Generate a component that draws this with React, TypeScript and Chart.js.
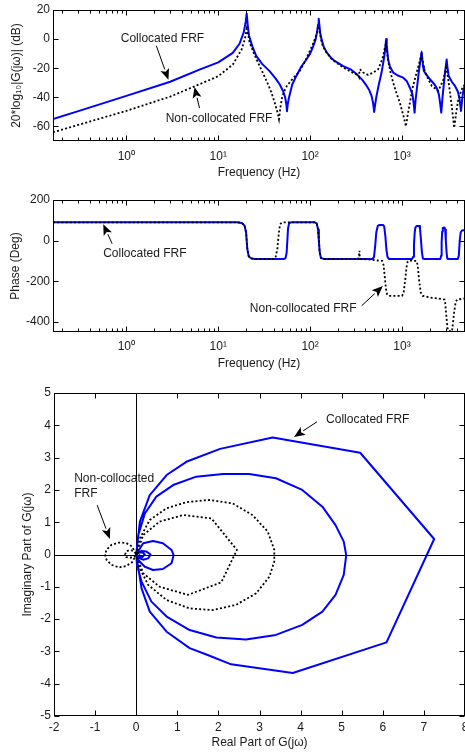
import React, { useEffect, useRef } from 'react';
import { Chart, registerables } from 'chart.js';
Chart.register(...registerables);

const FONT = "'Liberation Sans', Arial, Helvetica, sans-serif";
const BLUE = '#0000ff';
const INK = '#1a1a1a';

// ---------- Magnitude (dB) ----------
const magColFreq = [0.159, 0.3, 1, 3, 6.25, 10, 14.4, 17.1, 19.0, 19.9, 20.4, 20.9, 21.6, 23.5, 25.9, 30, 36.2, 42, 46.6, 51, 53.5, 55.2, 56, 57, 58.5, 60, 64, 70.8, 80, 91, 100, 108, 115, 119, 122, 124, 126, 129, 133, 140, 151, 170, 185, 229, 280, 320, 370, 411, 440, 466, 485, 498, 510, 528, 560, 599, 630, 651, 665, 673, 682, 693, 707, 740, 802, 900, 1031, 1130, 1219, 1300, 1340, 1371, 1405, 1465, 1520, 1567, 1610, 1634, 1660, 1700, 1732, 2015, 2250, 2383, 2520, 2600, 2675, 2760, 2884, 2980, 3064, 3120, 3222, 3500, 3776, 4050, 4210, 4390, 4540, 4650, 4853];
const magColDb = [-55, -49.5, -39, -29.3, -21, -16, -9.5, -3, 5, 12, 17.5, 10, 2.5, -5, -11.5, -17, -22, -27, -31, -36, -40, -45, -49.5, -45, -41, -38, -31, -25.3, -19, -14, -10, -5, 0, 5, 10, 14, 10, 4, 0, -5, -9, -13, -15, -18.5, -21, -24, -28, -32, -35, -39, -44, -50, -45, -39, -31, -23, -15, -9, -3, 0, -4, -9, -14, -19, -23, -25, -26.5, -29, -33.4, -38, -44, -50.5, -42, -32, -23, -17, -12, -9, -13, -19, -22, -27.6, -31, -33.5, -38, -44, -50.5, -40, -28, -20, -14, -19, -25.3, -29.5, -32.2, -36, -40.3, -49.4, -40, -35.6, -31];

const magNonFreq = [0.159, 1, 3, 6.25, 10, 14.4, 18, 19.5, 20.4, 21.2, 21.9, 24.5, 27.5, 31, 34.8, 38, 41.2, 44, 45.8, 47.5, 49.9, 53, 56, 65, 77, 87, 97, 108, 117, 122, 124, 126, 131, 137, 150, 172, 229, 300, 335, 341, 345, 352, 378, 428, 486, 550, 600, 624, 650, 667, 685, 707, 750, 802, 870, 948, 1030, 1104, 1160, 1219, 1300, 1380, 1530, 1634, 1700, 1780, 2110, 2490, 2830, 2950, 3040, 3140, 3222, 3480, 3700, 3900, 4100, 4500, 4850];
const magNonDb = [-64, -49.3, -39.5, -31, -25.5, -17.5, -7, 0, 7, 3, -2, -10, -17, -24, -31, -37, -43.7, -50, -55, -47, -39, -35, -32, -27, -22, -16, -9.5, -3, 3, 7, 9, 6, 0, -4.6, -9, -13.8, -19.6, -23.5, -25, -26, -21, -21, -23, -24.6, -23, -20.7, -15, -11.5, -6, -3.4, -8, -15, -23, -29.9, -37, -43.7, -52, -60, -51, -43.7, -34, -27.6, -17, -10.3, -17, -23, -32.2, -35.6, -27.6, -22, -19.6, -25, -29.9, -46, -61, -50, -41.4, -34, -31];

// ---------- Phase (deg) ----------
const phColFreq = [0.159, 16, 18, 19.3, 20.1, 20.7, 21.5, 23, 25, 52, 54, 55.5, 56.5, 57.5, 59, 62, 112, 118, 122, 124.5, 127, 131, 140, 475, 495, 510, 525, 545, 570, 620, 640, 660, 675, 695, 720, 1290, 1320, 1350, 1375, 1400, 1450, 1540, 1570, 1610, 1650, 1690, 1730, 2620, 2660, 2700, 2740, 2780, 2900, 2950, 3000, 3060, 3110, 3150, 4050, 4150, 4250, 4350, 4500, 4850];
const phColDeg = [90, 90, 87, 75, 40, -40, -78, -88, -90, -90, -86, -60, 0, 60, 85, 90, 90, 85, 55, 0, -55, -85, -90, -90, -82, -30, 40, 72, 77, 77, 70, 20, -40, -80, -90, -90, -80, -20, 40, 65, 72, 72, 60, 0, -60, -88, -90, -90, -75, -10, 45, 62, 65, 55, 0, -60, -88, -90, -90, -75, 0, 40, 50, 52];

const phNonFreq = [0.159, 16, 18, 19.3, 20.1, 20.7, 21.5, 23, 25, 40, 42, 44, 45.5, 47, 49, 52, 112, 118, 122, 124.5, 127, 131, 140, 335, 340, 344, 347, 355, 450, 550, 610, 630, 650, 670, 690, 720, 1000, 1040, 1080, 1120, 1150, 1200, 1440, 1480, 1540, 1600, 1680, 2000, 2500, 2900, 2960, 3050, 3130, 3200, 3500, 3560, 3700, 3850, 4000, 4850];
const phNonDeg = [90, 90, 87, 75, 40, -40, -78, -88, -90, -90, -85, -40, 30, 80, 88, 90, 90, 85, 55, 0, -55, -85, -90, -90, -75, -50, -85, -90, -93, -98, -100, -120, -180, -240, -265, -272, -272, -260, -200, -130, -105, -98, -100, -120, -200, -255, -272, -280, -285, -290, -310, -380, -430, -445, -447, -420, -350, -300, -290, -285];

// ---------- Nyquist ----------
const nyColRe = [0, 0.09, 0.33, 0.74, 1.22, 2.04, 3.32, 5.45, 7.25, 6.09, 3.81, 2.31, 1.74, 1.30, 0.74, 0.33, 0.13, 0,
  0.05, 0.21, 0.49, 0.9, 1.46, 2.11, 2.75, 3.4, 4.04, 4.53, 4.85, 5.05, 5.11, 5.05, 4.85, 4.53, 4.04, 3.4, 2.67, 1.95, 1.3, 0.74, 0.37, 0.13, 0.02, 0,
  0.17, 0.41, 0.65, 0.86, 0.91, 0.86, 0.65, 0.41, 0.21, 0.05, 0,
  0.13, 0.25, 0.35, 0.29, 0.17, 0.05, 0,
  0.05, 0.15, 0.21, 0.15, 0.05, 0];
const nyColIm = [0, 1.02, 1.84, 2.46, 2.87, 3.27, 3.62, 3.15, 0.48, -2.72, -3.67, -3.4, -3.11, -2.9, -2.39, -1.77, -1.05, 0,
  0.6, 1.27, 1.79, 2.15, 2.41, 2.49, 2.49, 2.36, 2.0, 1.48, 0.91, 0.4, -0.02, -0.63, -1.25, -1.77, -2.18, -2.49, -2.63, -2.57, -2.34, -1.92, -1.46, -0.84, -0.33, 0,
  0.35, 0.42, 0.35, 0.14, -0.02, -0.27, -0.45, -0.48, -0.38, -0.17, 0,
  0.11, 0.09, 0, -0.12, -0.16, -0.1, 0,
  0.06, 0.07, 0, -0.08, -0.07, 0];

const nyNonRe = [0, 0.17, 0.57, 1.14, 1.83, 2.45, 2.07, 1.26, 0.57, 0.17, 0,
  0.09, 0.33, 0.74, 1.22, 1.78, 2.35, 2.83, 3.2, 3.36, 3.36, 3.24, 2.92, 2.43, 1.86, 1.3, 0.74, 0.29, 0.05, 0,
  -0.1, -0.25, -0.42, -0.6, -0.72, -0.76, -0.72, -0.6, -0.42, -0.25, -0.1, 0,
  -0.05, -0.15, -0.24, -0.27, -0.24, -0.15, -0.05, 0,
  0.05, 0.1, 0.05, 0];
const nyNonIm = [0, 0.6, 1.02, 1.22, 1.12, 0.14, -0.86, -1.25, -1.0, -0.58, 0,
  0.5, 1.07, 1.43, 1.62, 1.69, 1.58, 1.22, 0.71, 0.14, -0.22, -0.69, -1.2, -1.56, -1.72, -1.67, -1.41, -0.94, -0.33, 0,
  -0.24, -0.36, -0.4, -0.32, -0.17, 0, 0.15, 0.3, 0.37, 0.36, 0.25, 0,
  -0.07, -0.1, -0.08, 0, 0.1, 0.14, 0.1, 0,
  0.05, 0, -0.05, 0];

// ---------- Ticks ----------
const freqTicks = [1, 10, 100, 1000];
const freqTickLabels = ['10\u2070', '10\u00b9', '10\u00b2', '10\u00b3'];
const magTicks = [-60, -40, -20, 0, 20];
const phaseTicks = [-400, -200, 0, 200];
const reTicks = [-2, -1, 0, 1, 2, 3, 4, 5, 6, 7, 8];
const imTicks = [-5, -4, -3, -2, -1, 0, 1, 2, 3, 4, 5];

const FREQ_MIN = 0.159;
const FREQ_MAX = 4850;

const logMinor: number[] = [];
for (let e = -1; e <= 3; e++) {
  for (let m = 2; m <= 9; m++) {
    const v = m * Math.pow(10, e);
    if (v > FREQ_MIN && v < FREQ_MAX) logMinor.push(v);
  }
}

const pts = (xs: number[], ys: number[]) => xs.map((x, i) => ({ x, y: ys[i] }));

type Note =
  | { kind: 'text'; x: number; y: number; text: string; align: CanvasTextAlign }
  | { kind: 'arrow'; x1: number; y1: number; x2: number; y2: number };

function decor(opts: {
  xMajor: number[]; xMinor: number[]; yMajor: number[]; zero?: boolean; notes: Note[];
}) {
  return {
    id: 'decor',
    beforeDatasetsDraw(chart: any) {
      if (!opts.zero) return;
      const { ctx, chartArea: a, scales } = chart;
      const x0 = Math.round(scales.x.getPixelForValue(0)) + 0.5;
      const y0 = Math.round(scales.y.getPixelForValue(0)) + 0.5;
      ctx.save();
      ctx.strokeStyle = '#000';
      ctx.lineWidth = 1;
      ctx.beginPath();
      ctx.moveTo(x0, a.top); ctx.lineTo(x0, a.bottom);
      ctx.moveTo(a.left, y0); ctx.lineTo(a.right, y0);
      ctx.stroke();
      ctx.restore();
    },
    afterDraw(chart: any) {
      const { ctx, chartArea: a, scales } = chart;
      ctx.save();
      ctx.strokeStyle = '#000';
      ctx.lineWidth = 1;
      const L = Math.round(a.left) + 0.5, R = Math.round(a.right) - 0.5;
      const T = Math.round(a.top) + 0.5, B = Math.round(a.bottom) - 0.5;
      ctx.strokeRect(L, T, R - L, B - T);
      ctx.beginPath();
      const xt = (v: number, len: number) => {
        const p = Math.round(scales.x.getPixelForValue(v)) + 0.5;
        ctx.moveTo(p, T); ctx.lineTo(p, T + len);
        ctx.moveTo(p, B); ctx.lineTo(p, B - len);
      };
      const yt = (v: number, len: number) => {
        const p = Math.round(scales.y.getPixelForValue(v)) + 0.5;
        ctx.moveTo(L, p); ctx.lineTo(L + len, p);
        ctx.moveTo(R, p); ctx.lineTo(R - len, p);
      };
      opts.xMajor.forEach(v => xt(v, 5));
      opts.xMinor.forEach(v => xt(v, 3));
      opts.yMajor.forEach(v => yt(v, 5));
      ctx.stroke();

      ctx.fillStyle = INK;
      ctx.strokeStyle = '#000';
      ctx.font = `12px ${FONT}`;
      ctx.textBaseline = 'middle';
      opts.notes.forEach(n => {
        if (n.kind === 'text') {
          ctx.textAlign = n.align;
          ctx.fillText(n.text, scales.x.getPixelForValue(n.x), scales.y.getPixelForValue(n.y));
        } else {
          const x1 = scales.x.getPixelForValue(n.x1), y1 = scales.y.getPixelForValue(n.y1);
          const x2 = scales.x.getPixelForValue(n.x2), y2 = scales.y.getPixelForValue(n.y2);
          const ang = Math.atan2(y2 - y1, x2 - x1);
          const hl = 11, hw = 4.5;
          const bx = x2 - hl * Math.cos(ang), by = y2 - hl * Math.sin(ang);
          ctx.fillStyle = '#000';
          ctx.lineWidth = 1;
          ctx.beginPath();
          ctx.moveTo(x1, y1); ctx.lineTo(bx, by);
          ctx.stroke();
          ctx.beginPath();
          ctx.moveTo(x2, y2);
          ctx.lineTo(bx + hw * Math.sin(ang), by - hw * Math.cos(ang));
          ctx.lineTo(bx + 2.5 * Math.cos(ang), by + 2.5 * Math.sin(ang));
          ctx.lineTo(bx - hw * Math.sin(ang), by + hw * Math.cos(ang));
          ctx.closePath();
          ctx.fill();
          ctx.fillStyle = INK;
        }
      });
      ctx.restore();
    },
  };
}

const tickFont = { family: FONT, size: 12 };

function yAxis(min: number, max: number, ticks: number[], width: number, title: string, titlePad: number) {
  return {
    type: 'linear', min, max,
    afterBuildTicks: (s: any) => { s.ticks = ticks.map(v => ({ value: v })); },
    afterFit: (s: any) => { s.width = width; s.paddingTop = 0; s.paddingBottom = 0; },
    ticks: { font: tickFont, color: INK, padding: 3, autoSkip: false },
    grid: { display: false, drawTicks: false },
    border: { display: false },
    title: { display: true, text: title, font: tickFont, color: INK, padding: { top: titlePad, bottom: 0 } },
  };
}

function freqAxis(height: number, labelPad: number, titlePad: number) {
  return {
    type: 'logarithmic', min: FREQ_MIN, max: FREQ_MAX,
    afterBuildTicks: (s: any) => { s.ticks = freqTicks.map(v => ({ value: v })); },
    afterFit: (s: any) => { s.height = height; s.paddingLeft = 0; s.paddingRight = 0; },
    ticks: {
      font: tickFont, color: INK, padding: labelPad, autoSkip: false, maxRotation: 0,
      callback: (v: number) => { const i = freqTicks.indexOf(v); return i >= 0 ? freqTickLabels[i] : ''; },
    },
    grid: { display: false, drawTicks: false },
    border: { display: false },
    title: { display: true, text: 'Frequency (Hz)', font: tickFont, color: INK, padding: { top: 0, bottom: titlePad } },
  };
}

const dottedDs = (label: string, data: any[]) => ({
  label, data, showLine: true, pointRadius: 0, borderColor: '#000', borderWidth: 1.8,
  borderDash: [2, 2.2], borderCapStyle: 'butt', fill: false, tension: 0, order: 0,
});
const solidDs = (label: string, data: any[]) => ({
  label, data, showLine: true, pointRadius: 0, borderColor: BLUE, borderWidth: 2,
  borderJoinStyle: 'round', fill: false, tension: 0, order: 1,
});

function baseOptions(padTop: number, scales: any) {
  return {
    responsive: false, animation: false, events: [],
    layout: { padding: { top: padTop, left: 0, right: 0, bottom: 0 } },
    plugins: { legend: { display: false }, tooltip: { enabled: false } },
    scales,
  };
}

const magConfig = () => ({
  type: 'scatter',
  data: { datasets: [dottedDs('Non-collocated FRF', pts(magNonFreq, magNonDb)), solidDs('Collocated FRF', pts(magColFreq, magColDb))] },
  options: baseOptions(10, { x: freqAxis(44, 8, 5), y: yAxis(-70, 20, magTicks, 53, '20*log\u2081\u2080|G(j\u03c9)| (dB)', 9.5) }),
  plugins: [decor({
    xMajor: freqTicks, xMinor: logMinor, yMajor: magTicks, notes: [
      { kind: 'text', x: 2.47, y: 0, text: 'Collocated FRF', align: 'center' },
      { kind: 'arrow', x1: 2.12, y1: -4.6, x2: 2.87, y2: -28 },
      { kind: 'text', x: 10.2, y: -55, text: 'Non-collocated FRF', align: 'center' },
      { kind: 'arrow', x1: 6.25, y1: -47.4, x2: 5.52, y2: -32.9 },
    ],
  })],
});

const phaseConfig = () => ({
  type: 'scatter',
  data: { datasets: [dottedDs('Non-collocated FRF', pts(phNonFreq, phNonDeg)), solidDs('Collocated FRF', pts(phColFreq, phColDeg))] },
  options: baseOptions(15, { x: freqAxis(48, 7, 9.5), y: yAxis(-450, 200, phaseTicks, 53, 'Phase (Deg)', 8) }),
  plugins: [decor({
    xMajor: freqTicks, xMinor: logMinor, yMajor: phaseTicks, notes: [
      { kind: 'text', x: 1.59, y: -64.6, text: 'Collocated FRF', align: 'center' },
      { kind: 'arrow', x1: 0.70, y1: -15, x2: 0.56, y2: 81 },
      { kind: 'text', x: 84, y: -336, text: 'Non-collocated FRF', align: 'center' },
      { kind: 'arrow', x1: 365, y1: -320, x2: 619, y2: -224 },
    ],
  })],
});

const nyqConfig = () => ({
  type: 'scatter',
  data: { datasets: [dottedDs('Non-collocated FRF', pts(nyNonRe, nyNonIm)), solidDs('Collocated FRF', pts(nyColRe, nyColIm))] },
  options: baseOptions(13, {
    x: {
      type: 'linear', min: -2, max: 8,
      afterBuildTicks: (s: any) => { s.ticks = reTicks.map(v => ({ value: v })); },
      afterFit: (s: any) => { s.height = 38; s.paddingLeft = 0; s.paddingRight = 0; },
      ticks: { font: tickFont, color: INK, padding: 4, autoSkip: false, maxRotation: 0 },
      grid: { display: false, drawTicks: false },
      border: { display: false },
      title: { display: true, text: 'Real Part of G(j\u03c9)', font: tickFont, color: INK, padding: { top: 0, bottom: 4 } },
    },
    y: yAxis(-5, 5, imTicks, 54, 'Imaginary Part of G(j\u03c9)', 20.5),
  }),
  plugins: [decor({
    xMajor: reTicks, xMinor: [], yMajor: imTicks, zero: true, notes: [
      { kind: 'text', x: 4.62, y: 4.16, text: 'Collocated FRF', align: 'left' },
      { kind: 'arrow', x1: 4.40, y1: 4.11, x2: 3.84, y2: 3.64 },
      { kind: 'text', x: -1.51, y: 2.34, text: 'Non-collocated', align: 'left' },
      { kind: 'text', x: -1.51, y: 1.87, text: 'FRF', align: 'left' },
      { kind: 'arrow', x1: -0.95, y1: 1.53, x2: -0.64, y2: 0.48 },
    ],
  })],
});

function Plot({ top, height, make }: { top: number; height: number; make: () => any }) {
  const ref = useRef<HTMLCanvasElement | null>(null);
  useEffect(() => {
    if (!ref.current) return;
    const chart = new Chart(ref.current, make());
    return () => chart.destroy();
  }, [make]);
  return (
    <canvas
      ref={ref}
      width={465}
      height={height}
      style={{ position: 'absolute', left: 0, top, width: 465, height, display: 'block' }}
    />
  );
}

export default function App() {
  return (
    <div style={{ position: 'absolute', left: 0, top: 0, width: 465, height: 754, background: '#fff', overflow: 'hidden' }}>
      <Plot top={0} height={185} make={magConfig} />
      <Plot top={185} height={195} make={phaseConfig} />
      <Plot top={380} height={374} make={nyqConfig} />
    </div>
  );
}
